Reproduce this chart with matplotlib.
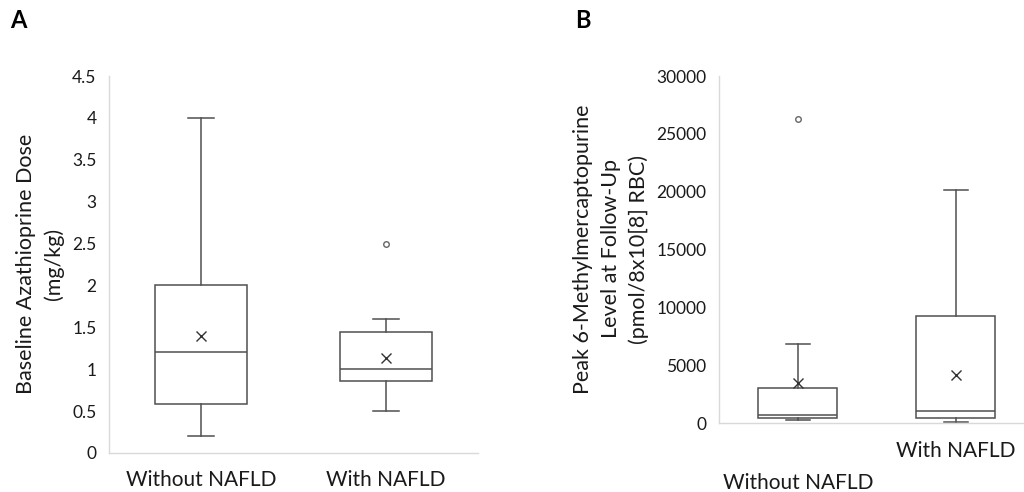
import matplotlib
matplotlib.use('Agg')
import matplotlib.pyplot as plt

plt.rcParams['font.family'] = ['Lato', 'DejaVu Sans']

# Painel A - dose basal de azatioprina (mg/kg)
grupos = ['Without NAFLD', 'With NAFLD']
a_whislo = [0.2, 0.5]
a_q1 = [0.58, 0.86]
a_med = [1.2, 1.0]
a_q3 = [2.0, 1.45]
a_whishi = [4.0, 1.6]
a_media = [1.4, 1.14]
a_outliers = [[], [2.5]]

# Painel B - pico de 6-MMP no seguimento
b_whislo = [300, 100]
b_q1 = [400, 400]
b_med = [700, 1050]
b_q3 = [3000, 9250]
b_whishi = [6850, 20150]
b_media = [3500, 4150]
b_outliers = [[26300], []]

cor_linha = '#505050'
cor_texto = '#1a1a1a'
cor_eixo = '#d9d9d9'


def montar_stats(whislo, q1, med, q3, whishi, media, outliers):
    stats = []
    for i in range(len(grupos)):
        stats.append({'whislo': whislo[i], 'q1': q1[i], 'med': med[i], 'q3': q3[i],
                      'whishi': whishi[i], 'mean': media[i], 'fliers': outliers[i],
                      'label': grupos[i]})
    return stats


def desenhar(ax, stats, capw):
    ax.bxp(stats, positions=[1, 2], widths=0.5, capwidths=capw, showmeans=True,
           patch_artist=True,
           boxprops=dict(facecolor='white', edgecolor=cor_linha, linewidth=1.1),
           whiskerprops=dict(color=cor_linha, linewidth=1.1),
           capprops=dict(color=cor_linha, linewidth=1.1),
           medianprops=dict(color=cor_linha, linewidth=1.1),
           meanprops=dict(marker='x', markeredgecolor='#333333', markersize=7, markeredgewidth=1.0),
           flierprops=dict(marker='o', markerfacecolor='white', markeredgecolor='#666666',
                           markersize=4, markeredgewidth=1.0))
    ax.set_xlim(0.5, 2.5)
    for s in ['top', 'right']:
        ax.spines[s].set_visible(False)
    for s in ['left', 'bottom']:
        ax.spines[s].set_color(cor_eixo)
        ax.spines[s].set_linewidth(1.0)
    ax.tick_params(axis='both', length=0, colors=cor_texto)
    ax.tick_params(axis='y', labelsize=12.5, pad=9)
    ax.tick_params(axis='x', labelsize=15, pad=12)


fig = plt.figure(figsize=(10.24, 4.92), dpi=100)

ax1 = fig.add_axes([0.1064, 0.0793, 0.3604, 0.766])
desenhar(ax1, montar_stats(a_whislo, a_q1, a_med, a_q3, a_whishi, a_media, a_outliers), 0.14)
ax1.set_ylim(0, 4.5)
ax1.set_yticks([0, 0.5, 1, 1.5, 2, 2.5, 3, 3.5, 4, 4.5])
ax1.set_yticklabels(['0', '0.5', '1', '1.5', '2', '2.5', '3', '3.5', '4', '4.5'])
ax1.set_xticks([1, 2])
ax1.set_xticklabels(grupos)

ax2 = fig.add_axes([0.7021, 0.1402, 0.3086, 0.7053])
desenhar(ax2, montar_stats(b_whislo, b_q1, b_med, b_q3, b_whishi, b_media, b_outliers), 0.15)
ax2.set_ylim(0, 30000)
ax2.set_yticks(range(0, 30001, 5000))
ax2.set_xticks([1, 2])
ax2.tick_params(axis='x', pad=13)
# rótulos escalonados como no original
ax2.set_xticklabels(['\n' + grupos[0], grupos[1]], linespacing=1.72)

fig.text(40 / 1024, 1 - 264 / 492, 'Baseline Azathioprine Dose\n(mg/kg)', rotation=90,
         ha='center', va='center', ma='center', fontsize=15.5, color=cor_texto, linespacing=1.5)
fig.text(611 / 1024, 1 - 249 / 492,
         'Peak 6-Methylmercaptopurine\nLevel at Follow-Up\n(pmol/8x10[8] RBC)', rotation=90,
         ha='center', va='center', ma='center', fontsize=15.5, color=cor_texto, linespacing=1.45)

fig.text(10 / 1024, 1 - 20 / 492, 'A', fontsize=17, fontweight='bold', va='center', color='black')
fig.text(575 / 1024, 1 - 20 / 492, 'B', fontsize=17, fontweight='bold', va='center', color='black')

fig.savefig('out.png', dpi=100, facecolor='white')
